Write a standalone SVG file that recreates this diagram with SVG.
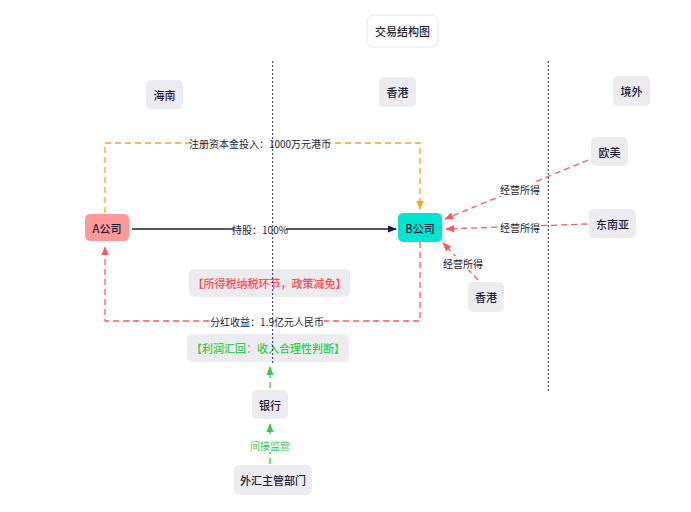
<svg xmlns="http://www.w3.org/2000/svg" width="691" height="512" viewBox="0 0 691 512">
<defs>
<style>
text{font-family:"Noto Sans CJK SC","Noto Sans",sans-serif;font-size:11px;fill:#1c1c38;text-anchor:middle;dominant-baseline:central;font-weight:500}
.lbl{font-size:10px;font-weight:400}
.box{fill:#ecebef}
.div{stroke:#2a2a55;stroke-width:1;stroke-dasharray:2 2;fill:none}
.lb{fill:#fff}
</style>
<marker id="mO" viewBox="0 0 10 10" refX="9" refY="5" markerWidth="7" markerHeight="7" orient="auto"><path d="M0,1 L10,5 L0,9 z" fill="#f5a623"/></marker>
<marker id="mR" viewBox="0 0 10 10" refX="9" refY="5" markerWidth="7" markerHeight="7" orient="auto"><path d="M0,1 L10,5 L0,9 z" fill="#ff5a5f"/></marker>
<marker id="mN" viewBox="0 0 10 10" refX="9" refY="5" markerWidth="7" markerHeight="7" orient="auto"><path d="M0,1 L10,5 L0,9 z" fill="#1a1a40"/></marker>
<marker id="mG" viewBox="0 0 10 10" refX="9" refY="5" markerWidth="7" markerHeight="7" orient="auto"><path d="M0,1 L10,5 L0,9 z" fill="#33cc4f"/></marker>
</defs>
<rect width="691" height="512" fill="#fff"/>
<g id="title"><rect x="367" y="15" width="71" height="32" rx="6" fill="#fff" stroke="#e6e6ea"/><text x="402.5" y="31">交易结构图</text></g>
<g id="region-hainan"><rect class="box" x="146" y="80" width="37" height="29" rx="5"/><text x="164.5" y="94.5">海南</text></g>
<g id="region-hk"><rect class="box" x="379" y="77" width="37" height="30" rx="5"/><text x="397.5" y="92">香港</text></g>
<g id="region-overseas"><rect class="box" x="613" y="76" width="37" height="30" rx="5"/><text x="631.5" y="91">境外</text></g>
<g id="connectors">
<path d="M105,213 V143 H420 V209" fill="none" stroke="#f5a623" stroke-width="1.3" stroke-dasharray="6 4" marker-end="url(#mO)"/>
<rect class="lb" x="193" y="136" width="134" height="14"/>
<text class="lbl" x="260" y="143">注册资本金投入：1000万元港币</text>
<path d="M132,229 H396" fill="none" stroke="#1a1a40" stroke-width="1.3" marker-end="url(#mN)"/>
<rect class="lb" x="234" y="222" width="52" height="14"/>
<text class="lbl" x="260" y="229">持股：100%</text>
<path d="M420,242 V321 H105 V247" fill="none" stroke="#ff5a5f" stroke-width="1.3" stroke-dasharray="6 4" marker-end="url(#mR)"/>
<rect class="lb" x="210" y="314" width="114" height="14"/>
<text class="lbl" x="267" y="321">分红收益：1.9亿元人民币</text>
<path d="M588,160 L445,219" fill="none" stroke="#ff5a5f" stroke-width="1.3" stroke-dasharray="6 4" marker-end="url(#mR)"/>
<rect class="lb" x="499" y="182" width="42" height="14"/>
<text class="lbl" x="520" y="189">经营所得</text>
<path d="M587,224 L446,229" fill="none" stroke="#ff5a5f" stroke-width="1.3" stroke-dasharray="6 4" marker-end="url(#mR)"/>
<rect class="lb" x="499" y="220" width="42" height="14"/>
<text class="lbl" x="520" y="227">经营所得</text>
<path d="M478,280 L443,243" fill="none" stroke="#ff5a5f" stroke-width="1.3" stroke-dasharray="6 4" marker-end="url(#mR)"/>
<rect class="lb" x="442" y="256" width="42" height="14"/>
<text class="lbl" x="463" y="263">经营所得</text>
<path d="M270,388 V367" fill="none" stroke="#33cc4f" stroke-width="1.3" stroke-dasharray="6 4" marker-end="url(#mG)"/>
<path d="M270,464 V424" fill="none" stroke="#33cc4f" stroke-width="1.3" stroke-dasharray="6 4" marker-end="url(#mG)"/>
<rect class="lb" x="249" y="438" width="42" height="14"/>
<text class="lbl" x="270" y="445" style="fill:#33cc4f">间接监管</text>
</g>
<g id="a-company"><rect x="85" y="214" width="44" height="27" rx="5" fill="#ff9999"/><text x="107" y="227.5">A公司</text></g>
<g id="b-company"><rect x="398" y="213" width="44" height="29" rx="5" fill="#00e5cf"/><text x="420" y="227.5">B公司</text></g>
<g id="europe"><rect class="box" x="591" y="137" width="37" height="29" rx="5"/><text x="609.5" y="151.5">欧美</text></g>
<g id="sea"><rect class="box" x="589" y="209" width="47" height="29" rx="5"/><text x="612.5" y="223.5">东南亚</text></g>
<g id="hk-source"><rect class="box" x="468" y="282" width="36" height="30" rx="5"/><text x="486" y="297">香港</text></g>
<g id="tax-note"><rect class="box" x="189" y="269" width="161" height="28" rx="5"/><text x="269.5" y="283" style="fill:#ff4d4f">【所得税纳税环节，政策减免】</text></g>
<g id="profit-note"><rect class="box" x="187" y="334" width="162" height="28" rx="5"/><text x="268" y="348" style="fill:#33cc4f">【利润汇回：收入合理性判断】</text></g>
<g id="bank"><rect class="box" x="252" y="390" width="36" height="29" rx="5"/><text x="270" y="404.5">银行</text></g>
<g id="fx-authority"><rect class="box" x="234" y="465" width="78" height="30" rx="5"/><text x="273" y="480">外汇主管部门</text></g>
<g id="dividers">
<path class="div" d="M272.7,61 V363"/>
<path class="div" d="M548.3,61 V391"/>
</g>
</svg>
